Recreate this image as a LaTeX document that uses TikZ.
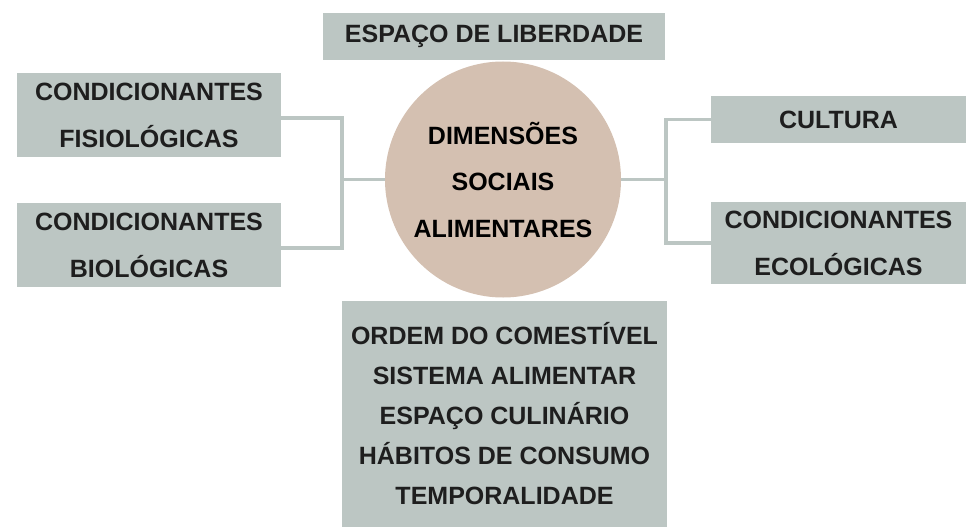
\documentclass[tikz,border=0pt]{standalone}
\usepackage{fontspec}
\setmainfont{Liberation Sans}
\definecolor{boxgray}{HTML}{BCC6C3}
\definecolor{circfill}{HTML}{D4C0B1}
\definecolor{txtdark}{HTML}{1E1E1E}
\begin{document}
\begin{tikzpicture}[x=1pt,y=-1pt,
  box/.style={fill=boxgray, draw=none, inner sep=0pt, align=center, text=txtdark,
    font=\bfseries\fontsize{25}{47}\selectfont},
  conn/.style={draw=boxgray, line width=3.5pt}]
\useasboundingbox (0,0) rectangle (966,527);
\node[box, minimum width=342pt, minimum height=47pt] (top) at (494,36.5) {ESPAÇO DE LIBERDADE};
\node[box, minimum width=264pt, minimum height=84pt] (lt) at (149,115) {CONDICIONANTES\\FISIOLÓGICAS};
\node[box, minimum width=264pt, minimum height=84pt] (lb) at (149,245) {CONDICIONANTES\\BIOLÓGICAS};
\node[box, minimum width=255pt, minimum height=47pt] (rt) at (838.5,119.5) {CULTURA};
\node[box, minimum width=255pt, minimum height=82pt] (rb) at (838.5,243) {CONDICIONANTES\\ECOLÓGICAS};
\node[box, minimum width=325pt, minimum height=226pt, font=\bfseries\fontsize{25}{40}\selectfont] (bot) at (504.5,414)
  {ORDEM DO COMESTÍVEL\\SISTEMA ALIMENTAR\\ESPAÇO CULINÁRIO\\HÁBITOS DE CONSUMO\\TEMPORALIDADE};
\node[circle, fill=circfill, minimum size=236pt, inner sep=0pt, align=center, text=black,
  font=\bfseries\fontsize{25}{46.5}\selectfont] (c) at (503,179.5) {DIMENSÕES\\SOCIAIS\\ALIMENTARES};
\coordinate (lj) at (342,179.5);
\coordinate (rj) at (666,179.5);
\draw[conn] ([yshift=-3pt]lt.east) -| (lj) |- ([yshift=-3pt]lb.east);
\draw[conn] (lj) -- (c.west);
\draw[conn] (rt.west) -| (rj) |- (rb.west);
\draw[conn] (rj) -- (c.east);
\end{tikzpicture}
\end{document}
